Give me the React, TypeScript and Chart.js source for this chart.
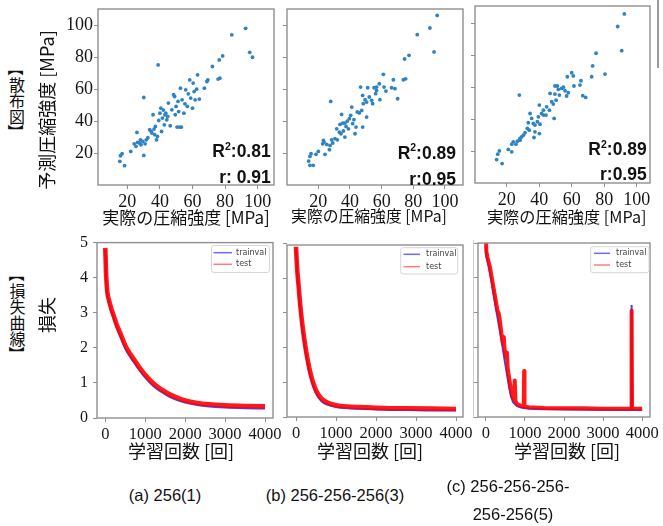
import React, { useEffect, useRef } from "react";
import { Chart, registerables } from "chart.js";
Chart.register(...registerables);

// ---------- DATA ----------
// Scatter: [actual strength, predicted strength] (MPa)
const scatterPointsA = [
  [15.4, 14.8], [15.8, 18.3], [16.8, 19.6], [18.3, 12.1], [22.1, 21.0], [24.2, 25.8], [25.3, 24.2], [25.9, 32.9],
  [26.3, 26.7], [27.4, 26.3], [28.0, 28.3], [28.4, 25.2], [29.5, 27.3], [30.1, 18.5], [30.1, 54.8], [30.9, 25.8],
  [31.6, 28.3], [32.6, 29.6], [33.7, 34.6], [34.7, 33.5], [35.1, 32.5], [35.8, 44.0], [36.4, 35.0], [36.8, 31.5],
  [37.2, 36.7], [37.9, 28.3], [38.5, 30.4], [38.9, 75.2], [39.3, 40.4], [40.0, 45.0], [40.6, 48.1], [41.0, 33.5],
  [41.5, 41.9], [42.1, 46.9], [42.7, 37.7], [43.1, 44.0], [43.6, 45.0], [44.2, 40.8], [44.8, 42.9], [45.2, 51.3],
  [46.3, 37.1], [47.3, 47.1], [48.4, 56.5], [49.0, 55.4], [49.4, 44.0], [49.9, 49.2], [50.5, 36.3], [51.1, 52.3],
  [51.5, 46.0], [52.0, 36.3], [52.6, 60.6], [53.2, 36.3], [53.6, 53.3], [54.7, 45.0], [55.3, 50.8], [55.8, 59.6],
  [56.8, 49.2], [57.4, 57.1], [58.3, 65.8], [58.9, 54.4], [60.0, 48.1], [60.4, 63.8], [61.0, 58.5], [61.6, 53.3],
  [62.5, 60.0], [63.1, 69.0], [64.2, 53.8], [67.3, 60.6], [68.8, 64.8], [69.4, 65.8], [72.2, 74.2], [75.7, 66.3],
  [76.8, 66.9], [76.4, 78.3], [78.5, 80.8], [84.1, 94.0], [92.6, 98.1], [95.1, 83.1], [96.8, 80.0],
];
const scatterPointsB = [
  [95.1, 106.2], [90.5, 98.3], [82.5, 94.1], [93.1, 83.3], [77.3, 81.2], [74.5, 78.9], [73.7, 65.9], [75.2, 66.5],
  [70.1, 54.0], [68.4, 60.3], [67.4, 65.9], [66.3, 60.9], [62.7, 58.8], [61.1, 69.3], [61.5, 61.3], [58.5, 63.4],
  [58.9, 53.4], [56.8, 61.3], [56.2, 57.2], [55.2, 60.9], [54.3, 50.9], [53.7, 53.0], [52.2, 55.1], [51.2, 60.9],
  [50.5, 51.9], [49.5, 53.4], [48.4, 50.9], [48.0, 56.1], [47.4, 46.7], [46.7, 61.3], [45.9, 45.1], [44.6, 45.7],
  [43.8, 36.3], [48.0, 36.3], [41.1, 48.8], [40.4, 43.6], [41.7, 38.4], [42.5, 40.9], [39.6, 41.5], [38.3, 40.0],
  [37.5, 36.7], [36.8, 38.8], [35.8, 33.8], [35.4, 38.8], [34.7, 44.2], [34.3, 32.1], [33.7, 37.9], [33.3, 33.1],
  [36.8, 30.0], [32.0, 28.3], [30.5, 29.0], [29.1, 26.3], [27.8, 52.3], [27.4, 24.8], [28.4, 28.3], [27.0, 22.1],
  [25.3, 25.4], [23.6, 26.9], [22.7, 25.8], [24.2, 19.2], [20.0, 21.0], [18.5, 19.2], [15.4, 19.6], [14.7, 17.9],
  [13.9, 15.0], [14.7, 12.3], [16.8, 12.3], [23.2, 27.9], [31.6, 35.2], [39.0, 35.2], [43.2, 32.1], [50.5, 42.5],
  [56.8, 59.2],
];
const scatterPointsC = [
  [92.4, 106.3], [88.3, 98.4], [90.8, 83.2], [75.0, 81.6], [72.9, 73.6], [72.3, 66.8], [80.5, 68.5], [65.7, 64.3],
  [66.8, 54.9], [68.6, 53.8], [65.1, 61.6], [61.0, 67.3], [60.0, 69.4], [61.4, 61.0], [57.3, 66.8], [57.9, 56.8],
  [56.9, 54.7], [55.9, 58.0], [53.8, 59.5], [51.2, 61.0], [51.8, 58.9], [49.7, 61.0], [46.7, 56.3], [49.7, 55.9],
  [50.4, 52.1], [47.7, 51.1], [48.7, 49.6], [49.2, 40.6], [46.3, 45.8], [44.6, 47.9], [42.6, 45.8], [41.5, 43.7],
  [40.1, 49.0], [39.5, 41.6], [38.9, 38.5], [40.5, 37.0], [37.4, 36.4], [36.4, 37.4], [34.4, 43.7], [35.4, 40.6],
  [33.3, 37.9], [32.7, 34.3], [33.9, 33.2], [31.3, 31.6], [30.3, 30.1], [29.2, 29.0], [28.2, 28.0], [28.2, 26.9],
  [26.6, 26.3], [25.7, 24.4], [24.1, 25.9], [23.1, 24.4], [23.1, 19.6], [27.8, 55.3], [21.0, 21.1], [15.5, 20.2],
  [14.5, 18.1], [13.8, 14.7], [17.2, 12.2], [36.8, 28.6], [40.1, 31.1], [37.4, 32.2], [42.6, 42.7], [44.2, 42.7],
  [52.4, 55.3], [54.9, 60.2],
];

// Loss curves (iteration, loss)
const lossIterA = [0, 20, 50, 100, 150, 200, 300, 400, 500, 600, 700, 800, 900, 1000, 1200, 1400, 1600, 1800, 2000, 2300, 2600, 3000, 3500, 4000];
const lossTestA = [4.85, 4.1, 3.6, 3.33, 3.12, 2.95, 2.62, 2.35, 2.07, 1.87, 1.7, 1.53, 1.37, 1.23, 0.99, 0.82, 0.68, 0.58, 0.5, 0.43, 0.39, 0.36, 0.34, 0.33];
const lossTrainA = [4.8, 4.0, 3.5, 3.24, 3.03, 2.86, 2.53, 2.26, 1.98, 1.78, 1.61, 1.45, 1.29, 1.15, 0.91, 0.75, 0.61, 0.51, 0.44, 0.37, 0.33, 0.3, 0.28, 0.27];

const lossIterB = [0, 15, 30, 60, 100, 150, 200, 250, 300, 350, 400, 450, 500, 600, 700, 800, 1000, 1300, 1700, 2200, 2800, 3400, 4000];
const lossTestB = [4.9, 4.55, 4.25, 3.85, 3.3, 2.75, 2.3, 1.92, 1.6, 1.32, 1.1, 0.92, 0.77, 0.58, 0.47, 0.41, 0.34, 0.3, 0.28, 0.26, 0.25, 0.24, 0.23];
const lossTrainB = [4.85, 4.45, 4.12, 3.7, 3.15, 2.6, 2.15, 1.78, 1.46, 1.2, 0.99, 0.82, 0.68, 0.5, 0.4, 0.35, 0.29, 0.25, 0.23, 0.21, 0.2, 0.19, 0.19];

const lossIterTrainC = [0, 15, 40, 107, 200, 300, 400, 500, 580, 640, 700, 800, 900, 1100, 1500, 2500, 3720, 3730, 3740, 4000];
const lossTrainC = [4.9, 4.6, 4.5, 4.13, 3.5, 2.85, 2.2, 1.5, 0.95, 0.6, 0.42, 0.31, 0.27, 0.24, 0.22, 0.21, 0.2, 3.22, 0.2, 0.2];
const lossIterTestC = [0, 15, 40, 107, 200, 260, 300, 330, 350, 400, 440, 460, 480, 520, 540, 560, 600, 640, 680, 720, 740, 760, 800, 900, 970, 980, 990, 1100, 1500, 2000, 2500, 3000, 3720, 3730, 3740, 4000];
const lossTestC = [5.2, 4.75, 4.6, 4.3, 3.7, 3.3, 3.05, 2.98, 2.85, 2.4, 2.1, 2.3, 1.95, 1.7, 1.85, 1.4, 1.1, 0.8, 0.6, 0.5, 1.05, 0.45, 0.37, 0.32, 0.3, 1.32, 0.3, 0.28, 0.26, 0.25, 0.25, 0.24, 0.24, 3.05, 0.24, 0.24];

// Tick labels and texts
const scatterTicks = [20, 40, 60, 80, 100];
const lossXTicks = [0, 1000, 2000, 3000, 4000];
const lossYTicks = [0, 1, 2, 3, 4, 5];
const seriesLabels = ["trainval", "test"];
const r2Values = [":0.81", ":0.89", ":0.89"];
const rValues = ["r: 0.91", "r:0.95", "r:0.95"];
const captionLines = [["(a) 256(1)"], ["(b) 256-256-256(3)"], ["(c) 256-256-256-", "256-256(5)"]];
const xTitleScatter = "実際の圧縮強度 [MPa]";
const yTitleScatter = "予測圧縮強度 [MPa]";
const xTitleLoss = "学習回数  [回]";
const yTitleLoss = "損失";
const rowLabels = ["【散布図】", "【損失曲線】"];

// ---------- LAYOUT ----------
type Rect = { l: number; t: number; r: number; b: number };
const YW = 48, PT = 14, PR = 34, XH = 34;
const scatterRects: Rect[] = [
  { l: 98, t: 9, r: 274, b: 185 },
  { l: 287, t: 9, r: 463, b: 185 },
  { l: 475, t: 6, r: 650, b: 183 },
];
const lossRects: Rect[] = [
  { l: 97, t: 242, r: 273, b: 418 },
  { l: 287, t: 245, r: 463, b: 417 },
  { l: 478, t: 243, r: 650, b: 417 },
];
const scatterXRange = [[2, 110], [0.2, 111.4], [0.5, 108.2]];
const scatterYRange = [[0, 110.2], [0, 110.2], [0, 111.3]];
const lossXRange = [[-208, 4200], [-225, 4175], [-200, 4200]];
const lossYRange = [[0, 5], [0, 4.95], [0, 5]];
const statPos = [
  { right: 270.7, b1: 157, b2: 182.7 },
  { right: 456, b1: 158.5, b2: 185 },
  { right: 646.7, b1: 155, b2: 180 },
];
const legendBoxes = [
  { x: 211.5, y: 245.5, w: 58, h: 27, lx0: 213.5, lx1: 232, tx: 236, rows: [252.7, 264.3] },
  { x: 400.7, y: 247.7, w: 57, h: 26.3, lx0: 403.5, lx1: 420, tx: 426, rows: [254.3, 266.7] },
  { x: 590.7, y: 246.7, w: 58.3, h: 26, lx0: 594, lx1: 610, tx: 616, rows: [253.3, 265] },
];

const SERIF = "'Liberation Serif', 'Times New Roman', serif";
const CJK = "'Noto Sans CJK JP', 'Noto Sans', sans-serif";
const ARIAL = "'Liberation Sans', Arial, sans-serif";
const FRAME = "#8f8f8f";

function axis(min: number, max: number, ticks: number[], show: boolean, size: number, pad: number, isX: boolean) {
  return {
    type: "linear",
    min,
    max,
    afterBuildTicks: (s: any) => {
      s.ticks = ticks.map((v) => ({ value: v }));
    },
    afterFit: (s: any) => {
      if (isX) s.height = XH;
      else s.width = YW;
    },
    border: { display: false },
    grid: { display: true, drawOnChartArea: false, drawTicks: true, tickLength: 4, color: FRAME, lineWidth: 1 },
    ticks: {
      display: show,
      autoSkip: false,
      maxRotation: 0,
      minRotation: 0,
      padding: pad,
      color: "#161616",
      font: { family: SERIF, size },
      callback: (v: any) => String(v),
    },
  };
}

const framePlugin = {
  id: "frameBox",
  afterDatasetsDraw(chart: any) {
    const { ctx, chartArea: a } = chart;
    ctx.save();
    ctx.strokeStyle = FRAME;
    ctx.lineWidth = 1.4;
    ctx.strokeRect(a.left, a.top, a.right - a.left, a.bottom - a.top);
    ctx.restore();
  },
};

function statsPlugin(i: number, ox: number, oy: number) {
  return {
    id: "stats" + i,
    afterDraw(chart: any) {
      const ctx = chart.ctx;
      const p = statPos[i];
      ctx.save();
      ctx.fillStyle = "#111";
      ctx.textBaseline = "alphabetic";
      const big = `bold 17.5px ${ARIAL}`;
      const small = `bold 10.5px ${ARIAL}`;
      ctx.font = big;
      const wR = ctx.measureText("R").width;
      const wV = ctx.measureText(r2Values[i]).width;
      ctx.font = small;
      const w2 = ctx.measureText("2").width;
      const right = p.right - ox;
      let x = right - (wR + w2 + wV);
      const y1 = p.b1 - oy;
      ctx.font = big;
      ctx.fillText("R", x, y1);
      x += wR;
      ctx.font = small;
      ctx.fillText("2", x, y1 - 7.5);
      x += w2;
      ctx.font = big;
      ctx.fillText(r2Values[i], x, y1);
      ctx.textAlign = "right";
      ctx.fillText(rValues[i], right, p.b2 - oy);
      ctx.restore();
    },
  };
}

function legendPlugin(i: number, ox: number, oy: number) {
  return {
    id: "legendBox" + i,
    afterDraw(chart: any) {
      const ctx = chart.ctx;
      const b = legendBoxes[i];
      ctx.save();
      ctx.fillStyle = "rgba(255,255,255,0.85)";
      ctx.strokeStyle = "#d6d6d6";
      ctx.lineWidth = 1;
      ctx.beginPath();
      ctx.roundRect(b.x - ox, b.y - oy, b.w, b.h, 2.5);
      ctx.fill();
      ctx.stroke();
      const colors = ["rgba(70,70,255,0.8)", "rgba(255,80,80,0.75)"];
      seriesLabels.forEach((lab, k) => {
        const yy = b.rows[k] - oy;
        ctx.strokeStyle = colors[k];
        ctx.lineWidth = 1.5;
        ctx.beginPath();
        ctx.moveTo(b.lx0 - ox, yy);
        ctx.lineTo(b.lx1 - ox, yy);
        ctx.stroke();
        ctx.fillStyle = "#444";
        ctx.font = `8px 'DejaVu Sans', sans-serif`;
        ctx.textBaseline = "middle";
        ctx.fillText(lab, b.tx - ox, yy);
      });
      ctx.restore();
    },
  };
}

function baseOptions() {
  return {
    animation: false,
    responsive: false,
    devicePixelRatio: 1,
    events: [],
    layout: { padding: { left: 0, top: PT, right: PR, bottom: 0 } },
    plugins: { legend: { display: false }, tooltip: { enabled: false } },
  };
}

function scatterConfig(i: number, ox: number, oy: number) {
  const pts = [scatterPointsA, scatterPointsB, scatterPointsC][i];
  return {
    type: "scatter",
    data: {
      datasets: [
        {
          data: pts.map(([x, y]) => ({ x, y })),
          backgroundColor: "#2f83c0",
          borderWidth: 0,
          pointRadius: 1.9,
        },
      ],
    },
    options: {
      ...baseOptions(),
      scales: {
        x: axis(scatterXRange[i][0], scatterXRange[i][1], scatterTicks, true, 18, 2, true),
        y: axis(scatterYRange[i][0], scatterYRange[i][1], scatterTicks, i === 0, 18, 1, false),
      },
    },
    plugins: [framePlugin, statsPlugin(i, ox, oy)],
  };
}

function lossConfig(i: number, ox: number, oy: number) {
  const trainIt = [lossIterA, lossIterB, lossIterTrainC][i];
  const testIt = [lossIterA, lossIterB, lossIterTestC][i];
  const train = [lossTrainA, lossTrainB, lossTrainC][i];
  const test = [lossTestA, lossTestB, lossTestC][i];
  const smooth = i === 2 ? "default" : "monotone";
  return {
    type: "line",
    data: {
      datasets: [
        {
          label: seriesLabels[0],
          data: trainIt.map((x, k) => ({ x, y: train[k] })),
          borderColor: "rgba(30,30,255,0.85)",
          borderWidth: 2,
          pointRadius: 0,
          cubicInterpolationMode: smooth,
          tension: 0,
          order: 2,
        },
        {
          label: seriesLabels[1],
          data: testIt.map((x, k) => ({ x, y: test[k] })),
          borderColor: "rgba(255,0,0,0.9)",
          borderWidth: i === 2 ? 4 : 4.6,
          borderJoinStyle: "round",
          pointRadius: 0,
          cubicInterpolationMode: smooth,
          tension: 0,
          order: 1,
        },
      ],
    },
    options: {
      ...baseOptions(),
      scales: {
        x: axis(lossXRange[i][0], lossXRange[i][1], lossXTicks, true, 16.5, 3, true),
        y: axis(lossYRange[i][0], lossYRange[i][1], lossYTicks, i === 0, 16, 5, false),
      },
    },
    plugins: [framePlugin, legendPlugin(i, ox, oy)],
  };
}

function Panel({ rect, kind, idx }: { rect: Rect; kind: "scatter" | "loss"; idx: number }) {
  const ref = useRef<HTMLCanvasElement>(null);
  const w = rect.r - rect.l + YW + PR;
  const h = rect.b - rect.t + PT + XH;
  const ox = rect.l - YW;
  const oy = rect.t - PT;
  useEffect(() => {
    const cfg: any = kind === "scatter" ? scatterConfig(idx, ox, oy) : lossConfig(idx, ox, oy);
    const chart = new Chart(ref.current as HTMLCanvasElement, cfg);
    return () => chart.destroy();
  }, []);
  return (
    <canvas
      ref={ref}
      width={w}
      height={h}
      style={{ position: "absolute", left: ox, top: oy, width: w, height: h }}
    />
  );
}

const abs = (extra: any) => ({ position: "absolute" as const, whiteSpace: "nowrap" as const, lineHeight: 1, color: "#111", ...extra });

// Vertical (tategaki) label: characters stacked top to bottom, brackets turned to vertical form
function VerticalLabel({ text, cx, top, size }: { text: string; cx: number; top: number; size: number }) {
  const chars = Array.from(text);
  return (
    <div style={{ position: "absolute", left: cx - size / 2, top, width: size, fontFamily: CJK, fontSize: size, color: "#111" }}>
      {chars.map((c, k) => {
        const bracket = c === "【" || c === "】";
        return (
          <div
            key={k}
            style={{
              width: size,
              height: size,
              lineHeight: size + "px",
              textAlign: "center",
              transform: bracket ? "rotate(90deg)" : undefined,
            }}
          >
            {c}
          </div>
        );
      })}
    </div>
  );
}

export default function App() {
  const scatterTitleX = [186, 369, 566.7];
  const scatterTitleSize = [17, 15.8, 16.2];
  const lossTitleX = [181, 370, 567];
  return (
    <div style={{ position: "fixed", left: 0, top: 0, width: 663, height: 526, background: "#fff", overflow: "hidden" }}>
      {scatterRects.map((r, i) => (
        <Panel key={"s" + i} rect={r} kind="scatter" idx={i} />
      ))}
      {lossRects.map((r, i) => (
        <Panel key={"l" + i} rect={r} kind="loss" idx={i} />
      ))}

      <div style={abs({ left: 473, top: 240, width: 1, height: 178, background: "#cfcfcf" })} />
      <div style={abs({ left: 657, top: 0, width: 1.5, height: 68, background: "#9a9a9a" })} />

      <VerticalLabel text={rowLabels[0]} cx={17} top={60} size={16} />
      <VerticalLabel text={rowLabels[1]} cx={17.5} top={266} size={16} />

      <div style={abs({ left: 46, top: 110, transform: "translate(-50%,-50%) rotate(-90deg)", fontFamily: CJK, fontSize: 18 })}>
        {yTitleScatter}
      </div>
      <div style={abs({ left: 46, top: 315, transform: "translate(-50%,-50%) rotate(-90deg)", fontFamily: CJK, fontSize: 18 })}>
        {yTitleLoss}
      </div>

      {scatterTitleX.map((x, i) => (
        <div key={"tx" + i} style={abs({ left: x, top: 216, transform: "translate(-50%,-50%)", fontFamily: CJK, fontSize: scatterTitleSize[i] })}>
          {xTitleScatter}
        </div>
      ))}
      {lossTitleX.map((x, i) => (
        <div key={"lx" + i} style={abs({ left: x, top: 450, transform: "translate(-50%,-50%)", fontFamily: CJK, fontSize: 18 })}>
          {xTitleLoss}
        </div>
      ))}

      <div style={abs({ left: 165, top: 495, transform: "translate(-50%,-50%)", fontFamily: ARIAL, fontSize: 16.5 })}>
        {captionLines[0][0]}
      </div>
      <div style={abs({ left: 335, top: 495, transform: "translate(-50%,-50%)", fontFamily: ARIAL, fontSize: 16.5 })}>
        {captionLines[1][0]}
      </div>
      <div style={abs({ left: 508, top: 486, transform: "translate(-50%,-50%)", fontFamily: ARIAL, fontSize: 16.5 })}>
        {captionLines[2][0]}
      </div>
      <div style={abs({ left: 513, top: 514, transform: "translate(-50%,-50%)", fontFamily: ARIAL, fontSize: 16.5 })}>
        {captionLines[2][1]}
      </div>
    </div>
  );
}
